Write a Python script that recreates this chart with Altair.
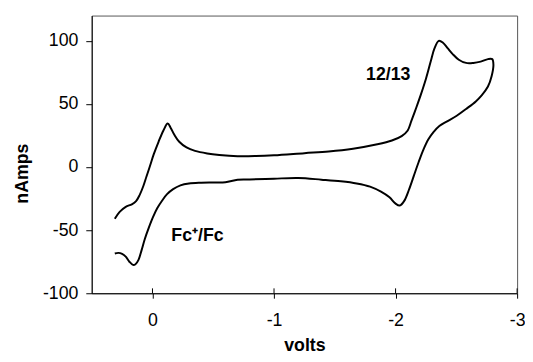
import altair as alt
import pandas as pd

# Forward scan (upper branch), then return scan (lower branch)
volts_fwd = [0.31, 0.27, 0.22, 0.17, 0.135, 0.105, 0.075, 0.05, 0.02, -0.01, -0.05, -0.09,
             -0.125, -0.15, -0.18, -0.22, -0.28, -0.35, -0.45, -0.55, -0.7, -0.85, -1.0,
             -1.25, -1.45, -1.65, -1.85, -1.97, -2.05, -2.1, -2.13, -2.17, -2.21, -2.25,
             -2.29, -2.32, -2.355, -2.39, -2.43, -2.47, -2.52, -2.58, -2.64, -2.70, -2.76,
             -2.795]
namps_fwd = [-41, -35.5, -31.5, -29.5, -27, -22, -15, -7.7, 1, 10, 20, 29,
             34.5, 31, 25.5, 20, 15.5, 12.8, 10.8, 9.6, 8.6, 8.7, 9.3,
             11, 12.3, 14.5, 18, 21, 24.5, 29, 36.5, 47, 58, 70,
             84, 94, 100, 98.5, 94, 89.5, 85, 82.5, 82.5, 83.5, 85.5,
             85.5]
volts_rev = [-2.805, -2.79, -2.76, -2.71, -2.66, -2.58, -2.5, -2.42, -2.36, -2.31, -2.27,
             -2.23, -2.19, -2.15, -2.11, -2.07, -2.035, -2.0, -1.95, -1.88, -1.79, -1.68,
             -1.55, -1.39, -1.2, -1.0, -0.8, -0.7, -0.6, -0.5, -0.4, -0.3, -0.23, -0.17,
             -0.12, -0.08, -0.04, -0.005, 0.03, 0.063, 0.09, 0.115, 0.14, 0.16, 0.19,
             0.22, 0.25, 0.28, 0.31]
namps_rev = [81, 72, 63.8, 57, 52, 46, 40.4, 36, 32.5, 27.5, 22,
             14, 4, -7, -18, -27, -30.5, -29, -24, -19.5, -15.5, -13,
             -11.3, -10, -8.7, -9.2, -9.8, -10, -12, -12.2, -12.4, -13, -14.5, -17.5,
             -21.5, -26.5, -32.5, -39.5, -48, -57, -66, -73.5, -77, -77.5, -75,
             -71, -68.8, -68, -68.5]

label_text = ["12/13", "Fc\u207a/Fc"]
label_volts = [-1.94, -0.37]
label_namps = [73, -55]

x_ticks = [0, -1, -2, -3]
y_ticks = [-100, -50, 0, 50, 100]

volts = volts_fwd + volts_rev
namps = namps_fwd + namps_rev
df = pd.DataFrame({"volts": volts, "nAmps": namps, "i": list(range(len(volts)))})
lab = pd.DataFrame({"t": label_text, "volts": label_volts, "nAmps": label_namps})
ticks_df = pd.DataFrame({"volts": x_ticks})

FONT = "Liberation Sans"

x_scale = alt.Scale(domain=[-3, 0.5], reverse=True, nice=False, zero=False)
y_scale = alt.Scale(domain=[-100, 120], nice=False, zero=False)

x_axis = alt.Axis(values=x_ticks, title="volts", grid=False, tickSize=5, labelPadding=14,
                  labelExpr="'' + datum.value",
                  labelFontSize=18, labelFont=FONT, labelColor="black",
                  titleFont=FONT, titleFontSize=18, titleFontWeight="bold", titleColor="black",
                  titleX=216, titleY=53, titleBaseline="middle",
                  domainColor="black", tickColor="black", labelFlush=False)
y_axis = alt.Axis(values=y_ticks, title="nAmps", grid=False, tickSize=6, labelPadding=8,
                  labelExpr="'' + datum.value",
                  labelFontSize=18, labelFont=FONT, labelColor="black",
                  titleFont=FONT, titleFontSize=18, titleFontWeight="bold", titleColor="black",
                  titleX=-70, titleY=160, titleBaseline="middle",
                  domainColor="black", tickColor="black", labelFlush=False)

line = alt.Chart(df).mark_line(color="black", strokeWidth=2, interpolate="catmull-rom").encode(
    x=alt.X("volts:Q", scale=x_scale, axis=x_axis),
    y=alt.Y("nAmps:Q", scale=y_scale, axis=y_axis),
    order="i:Q",
)

# inner half of the x ticks (reference ticks cross the axis line)
inner_ticks = alt.Chart(ticks_df).mark_rule(color="black", strokeWidth=1).encode(
    x=alt.X("volts:Q", scale=x_scale),
    y=alt.value(282),
    y2=alt.value(277),
)

text = alt.Chart(lab).mark_text(font=FONT, fontSize=18, fontWeight="bold", color="black").encode(
    x=alt.X("volts:Q", scale=x_scale),
    y=alt.Y("nAmps:Q", scale=y_scale),
    text="t:N",
)

chart = (line + inner_ticks + text).properties(
    width=432, height=282,
    autosize=alt.AutoSizeParams(type="none"),
    padding={"left": 85, "top": 5, "right": 8, "bottom": 60},
).configure_view(stroke="#555", strokeWidth=1)

chart.save("out.html", embed_options={"renderer": "svg", "actions": False})
